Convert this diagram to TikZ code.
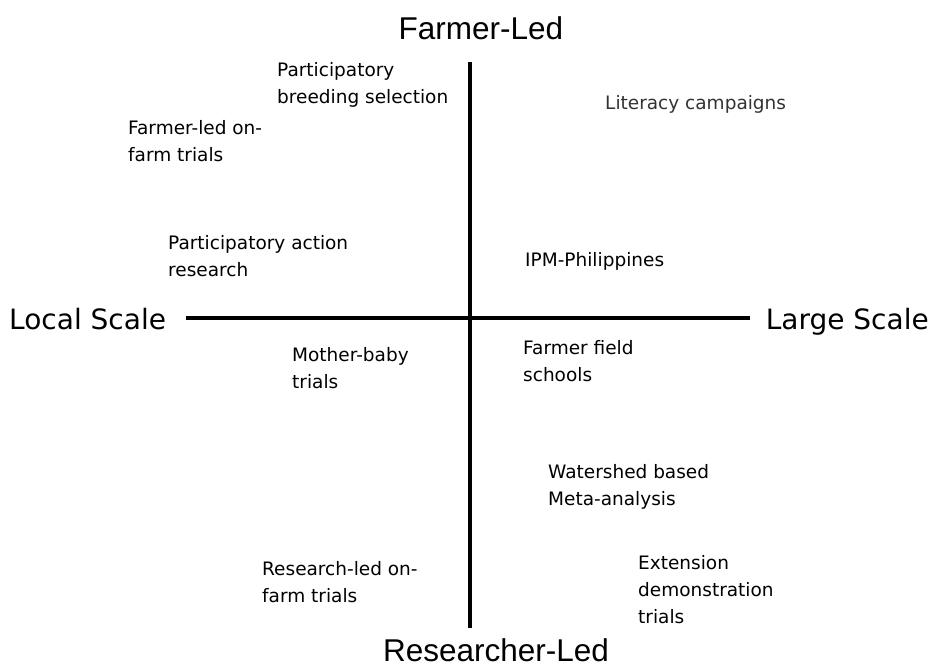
\documentclass[tikz,border=0pt]{standalone}
\usepackage{fontspec}
\setmainfont{DejaVu Sans}
\newfontfamily\narrowfont{Liberation Sans}
\begin{document}
\begin{tikzpicture}[x=1pt,y=-1pt,
  axis/.style={line width=3.5pt},
  lbl/.style={anchor=north west,inner sep=0pt,align=left,font=\fontsize{18.5}{27}\selectfont},
  big/.style={inner sep=0pt,anchor=base,font=\fontsize{28}{30}\selectfont},
  title/.style={inner sep=0pt,anchor=base,font=\narrowfont\fontsize{31.5}{33}\selectfont}]
\useasboundingbox[fill=white] (0,0) rectangle (934,666);
\coordinate (top) at (470,62);
\coordinate (bot) at (470,628);
\coordinate (lft) at (186,318);
\coordinate (rgt) at (750,318);
\draw[axis] (top) -- (bot);
\draw[axis] (lft) -- (rgt);
\node[title] (fl) at (481,40) {Farmer-Led};
\node[title] (rl) at (496,661) {Researcher-Led};
\node[big,anchor=base west] (ls) at (9,329) {Local Scale};
\node[big,anchor=base east] (lgs) at (929,329) {Large Scale};
\node[lbl] (pb) at (277,62) {Participatory\\breeding selection};
\node[lbl,text=black!80] (lc) at (605,95) {Literacy campaigns};
\node[lbl] (fo) at (128,120) {Farmer-led on-\\farm trials};
\node[lbl] (pa) at (168,235) {Participatory action\\research};
\node[lbl] (ipm) at (525,252) {IPM-Philippines};
\node[lbl] (mb) at (292,347) {Mother-baby\\trials};
\node[lbl] (ff) at (523,340) {Farmer field\\schools};
\node[lbl] (ws) at (548,464) {Watershed based\\Meta-analysis};
\node[lbl] (ro) at (262,561) {Research-led on-\\farm trials};
\node[lbl] (ed) at (638,555) {Extension\\demonstration\\trials};
\end{tikzpicture}
\end{document}
